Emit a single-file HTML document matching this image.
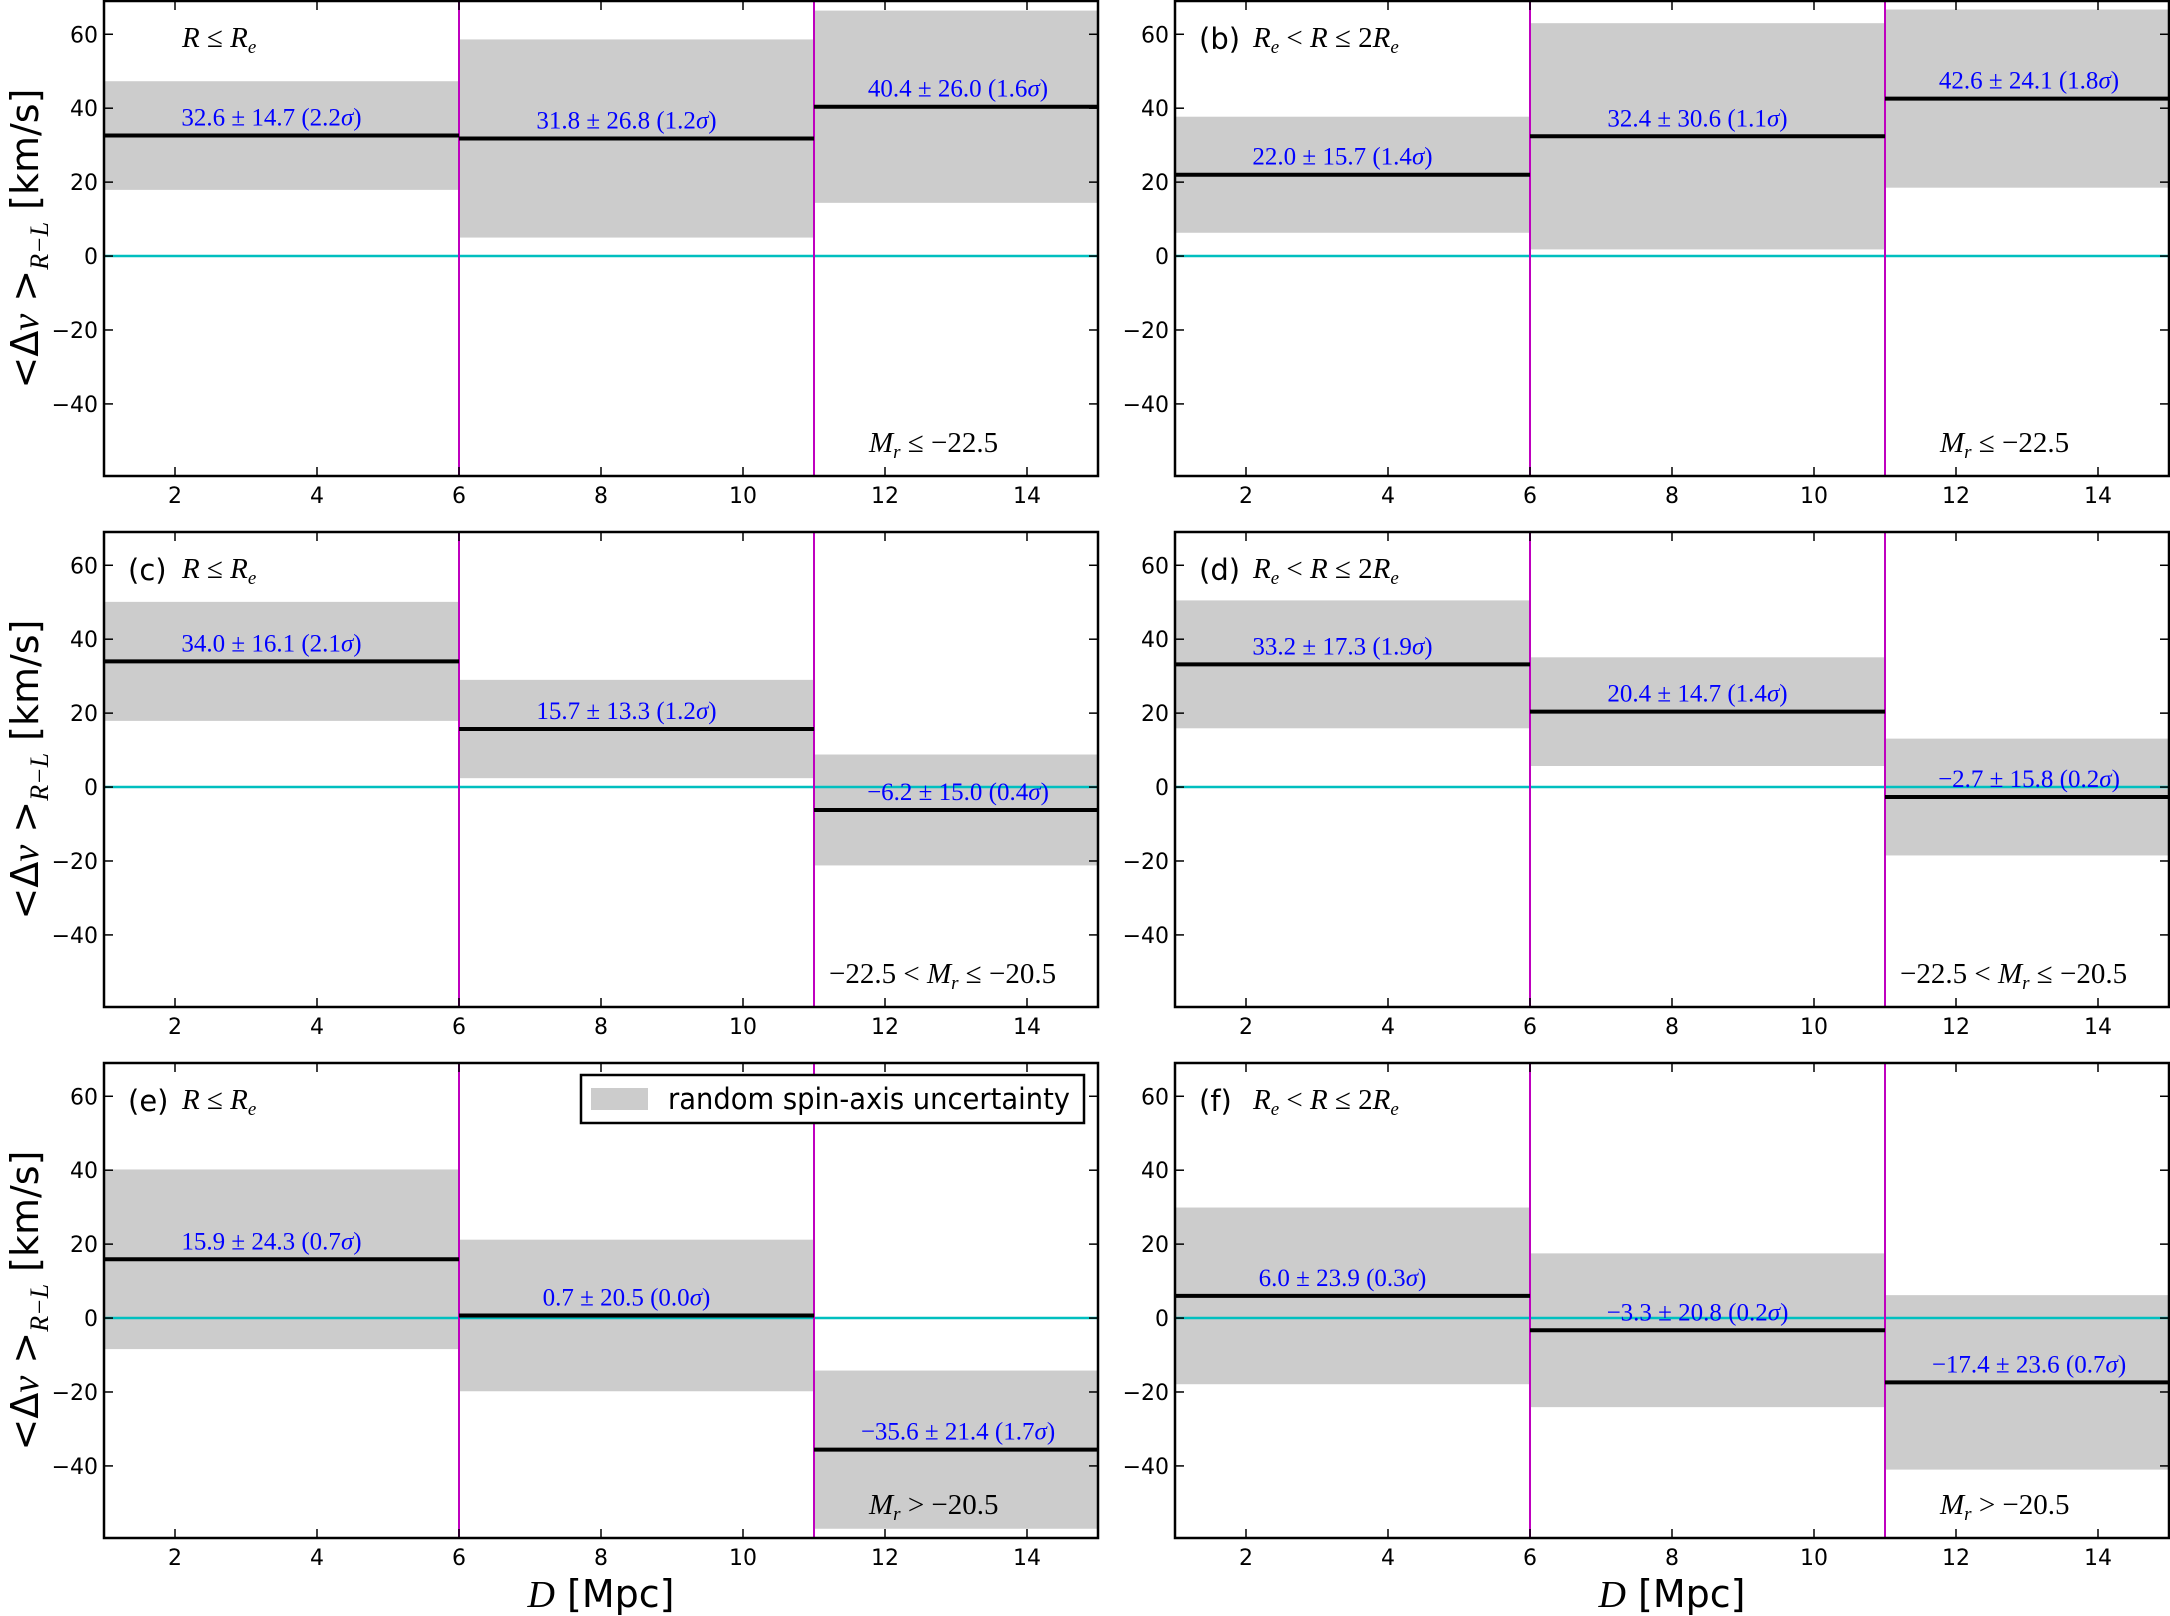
<!DOCTYPE html>
<html><head><meta charset="utf-8">
<style>
html,body{margin:0;padding:0;background:#fff;}
svg{display:block;}
.tick{font-family:"DejaVu Sans","Liberation Sans",sans-serif;font-size:22px;fill:#000;}
.val{font-family:"Liberation Serif",serif;font-size:25px;fill:#0000ff;}
.ann{font-family:"Liberation Serif",serif;font-size:29px;fill:#000;}
.plab{font-family:"DejaVu Sans","Liberation Sans",sans-serif;font-size:29px;fill:#000;}
.axl{font-family:"DejaVu Sans","Liberation Sans",sans-serif;font-size:38px;fill:#000;}
</style></head>
<body>
<svg id="fig" width="2170" height="1616" viewBox="0 0 2170 1616" xmlns="http://www.w3.org/2000/svg"></svg>
<script>
// bins (x edges in Mpc)
const binEdges = [1, 6, 11, 15];
const xTicks = [2, 4, 6, 8, 10, 12, 14];
const yTicks = [-40, -20, 0, 20, 40, 60];
// per-panel values
const panelIds = ['a','b','c','d','e','f'];
const means_a = [32.6, 31.8, 40.4];   const errs_a = [14.7, 26.8, 26.0]; const sig_a = ['2.2','1.2','1.6'];
const means_b = [22.0, 32.4, 42.6];   const errs_b = [15.7, 30.6, 24.1]; const sig_b = ['1.4','1.1','1.8'];
const means_c = [34.0, 15.7, -6.2];   const errs_c = [16.1, 13.3, 15.0]; const sig_c = ['2.1','1.2','0.4'];
const means_d = [33.2, 20.4, -2.7];   const errs_d = [17.3, 14.7, 15.8]; const sig_d = ['1.9','1.4','0.2'];
const means_e = [15.9, 0.7, -35.6];   const errs_e = [24.3, 20.5, 21.4]; const sig_e = ['0.7','0.0','1.7'];
const means_f = [6.0, -3.3, -17.4];   const errs_f = [23.9, 20.8, 23.6]; const sig_f = ['0.3','0.2','0.7'];
const allMeans = [means_a, means_b, means_c, means_d, means_e, means_f];
const allErrs = [errs_a, errs_b, errs_c, errs_d, errs_e, errs_f];
const allSig = [sig_a, sig_b, sig_c, sig_d, sig_e, sig_f];

const NS = 'http://www.w3.org/2000/svg';
const svg = document.getElementById('fig');
function mk(tag, attrs, parent, text) {
  const e = document.createElementNS(NS, tag);
  for (const k in attrs) e.setAttribute(k, attrs[k]);
  if (text !== undefined) e.innerHTML = text;
  (parent || svg).appendChild(e);
  return e;
}
const colX = [104, 1175], rowY = [1, 532, 1063];
const PW = 994, PH = 475;
const XMIN = 1, XMAX = 15, YMAX = 69, YMIN = -59.5;
const leftLabels = ['<tspan font-style="italic">R</tspan> ≤ <tspan font-style="italic">R</tspan><tspan font-size="19" font-style="italic" dy="6">e</tspan>',
  '<tspan font-style="italic">R</tspan><tspan font-size="19" font-style="italic" dy="6">e</tspan><tspan dy="-6"> &lt; </tspan><tspan font-style="italic">R</tspan> ≤ 2<tspan font-style="italic">R</tspan><tspan font-size="19" font-style="italic" dy="6">e</tspan>'];
const magLabels = ['<tspan font-style="italic">M</tspan><tspan font-size="19" font-style="italic" dy="6">r</tspan><tspan dy="-6"> ≤ −22.5</tspan>',
  '−22.5 &lt; <tspan font-style="italic">M</tspan><tspan font-size="19" font-style="italic" dy="6">r</tspan><tspan dy="-6"> ≤ −20.5</tspan>',
  '<tspan font-style="italic">M</tspan><tspan font-size="19" font-style="italic" dy="6">r</tspan><tspan dy="-6"> &gt; −20.5</tspan>'];

panelIds.forEach((pid, i) => {
  const col = i % 2, row = Math.floor(i / 2);
  const L = colX[col], T = rowY[row];
  const xs = v => L + (v - XMIN) / (XMAX - XMIN) * PW;
  const ys = v => T + (YMAX - v) / (YMAX - YMIN) * PH;
  const g = mk('g', {});
  
  
  const means = allMeans[i], errs = allErrs[i], sig = allSig[i];
  for (let b = 0; b < 3; b++) {
    const r = mk('rect', {x: xs(binEdges[b]), y: ys(means[b] + errs[b]), width: xs(binEdges[b+1]) - xs(binEdges[b]), height: ys(means[b] - errs[b]) - ys(means[b] + errs[b]), fill: '#cccccc'}, g);
    
    
  }
  const z = mk('line', {x1: L, x2: L + PW, y1: ys(0), y2: ys(0), stroke: '#00bfbf', 'stroke-width': 2.5}, g);
  
  
  [binEdges[1], binEdges[2]].forEach(v => {
    const d = mk('line', {x1: xs(v), x2: xs(v), y1: T, y2: T + PH, stroke: '#bf00bf', 'stroke-width': 2}, g);
    
    
  });
  for (let b = 0; b < 3; b++) {
    const m = mk('line', {x1: xs(binEdges[b]), x2: xs(binEdges[b+1]), y1: ys(means[b]), y2: ys(means[b]), stroke: '#000', 'stroke-width': 4}, g);
    
    
    const cx = (xs(binEdges[b]) + xs(binEdges[b+1])) / 2 + (b === 2 ? 2 : -10);
    const mStr = (means[b] < 0 ? '−' + Math.abs(means[b]).toFixed(1) : means[b].toFixed(1));
    const t = mk('text', {x: cx, y: ys(means[b]) - 10, 'text-anchor': 'middle', class: 'val'}, g,
      mStr + ' ± ' + errs[b].toFixed(1) + ' (' + sig[b] + '<tspan font-style="italic">σ</tspan>)');
    
    
  }
  const fr = mk('rect', {x: L, y: T, width: PW, height: PH, fill: 'none', stroke: '#000', 'stroke-width': 2.5}, g);
  
  
  xTicks.forEach(v => {
    mk('line', {x1: xs(v), x2: xs(v), y1: T + PH, y2: T + PH - 9, stroke: '#000', 'stroke-width': 1.5}, g);
    mk('line', {x1: xs(v), x2: xs(v), y1: T, y2: T + 9, stroke: '#000', 'stroke-width': 1.5}, g);
    const t = mk('text', {x: xs(v), y: T + PH + 27, 'text-anchor': 'middle', class: 'tick'}, g, String(v));
    
    
  });
  yTicks.forEach(v => {
    mk('line', {x1: L, x2: L + 9, y1: ys(v), y2: ys(v), stroke: '#000', 'stroke-width': 1.5}, g);
    mk('line', {x1: L + PW, x2: L + PW - 9, y1: ys(v), y2: ys(v), stroke: '#000', 'stroke-width': 1.5}, g);
    const t = mk('text', {x: L - 6, y: ys(v) + 8, 'text-anchor': 'end', class: 'tick'}, g, v < 0 ? '−' + Math.abs(v) : String(v));
    
    
  });
  const pre = (pid === 'a') ? '' : '(' + pid + ')';
  if (pre) {
    const p = mk('text', {x: L + 24, y: T + 48, class: 'plab'}, g, pre);
    
    
  }
  const rl = mk('text', {x: L + 78, y: T + 46, class: 'ann'}, g, leftLabels[col]);
  
  
  const ml = mk('text', {x: L + (row === 1 ? 725 : 765), y: T + 451, class: 'ann'}, g, magLabels[row]);
  
  
  if (col === 0) {
    const yl = mk('text', {x: 0, y: 0, transform: 'translate(38,' + (T + PH/2) + ') rotate(-90)', 'text-anchor': 'middle', class: 'axl'}, g,
      '&lt;Δ<tspan font-family="Liberation Serif" font-style="italic">v</tspan> &gt;<tspan font-family="Liberation Serif" font-style="italic" font-size="26" dy="10">R−L</tspan><tspan dy="-10"> [km/s]</tspan>');
    
    
  }
  if (row === 2) {
    const xl = mk('text', {x: L + PW/2, y: 1607, 'text-anchor': 'middle', class: 'axl'}, g,
      '<tspan font-family="Liberation Serif" font-style="italic">D</tspan> [Mpc]');
    
    
  }
  if (pid === 'e') {
    const lg = mk('g', {}, g);
    
    
    mk('rect', {x: 581, y: 1075, width: 503, height: 48, fill: '#fff', stroke: '#000', 'stroke-width': 2.5}, lg);
    const sw = mk('rect', {x: 591, y: 1088, width: 57, height: 22, fill: '#cccccc'}, lg);
    
    
    const lt = mk('text', {x: 668, y: 1109, class: 'plab', 'font-size': '26', textLength: '402', lengthAdjust: 'spacingAndGlyphs'}, lg, 'random spin-axis uncertainty');
    
    
  }
});
</script>
</body></html>
